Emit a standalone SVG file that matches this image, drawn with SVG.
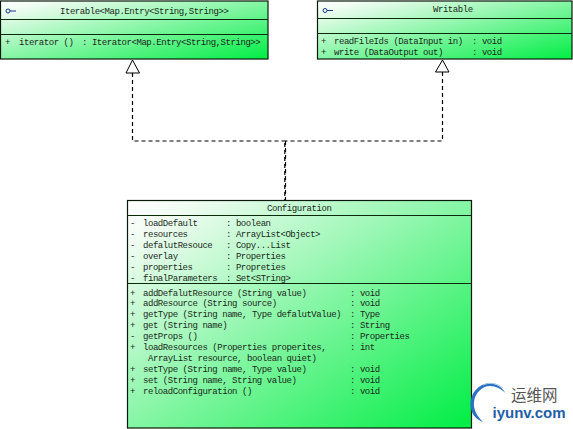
<svg xmlns="http://www.w3.org/2000/svg" width="573" height="429" viewBox="0 0 573 429">
<style>
text{font-family:"Liberation Mono","DejaVu Sans Mono",monospace;font-size:9px;letter-spacing:-.45px;fill:#1a2a1a;white-space:pre}
.box{fill:url(#g);stroke:#0a1a0a;stroke-width:1.2}
.div{stroke:#0a2a0a;stroke-width:1;fill:none}
.dash{fill:none;stroke:#000;stroke-width:1.2;stroke-dasharray:4 3}
.tri{fill:#fff;stroke:#000;stroke-width:1}
.ico{fill:none;stroke:#123a8a;stroke-width:1}
</style>
<defs>
<linearGradient id="g" x1="0" y1="0" x2="1" y2="1">
<stop offset="0" stop-color="#ffffff"/>
<stop offset=".1" stop-color="#f0fcf2"/>
<stop offset="1" stop-color="#00ee44"/>
</linearGradient>
</defs>
<rect width="573" height="429" fill="#fff"/>
<g id="connectors">
<path class="dash" d="M132.500 73V141H285"/>
<path class="dash" d="M442.500 72V141H285"/>
<path class="dash" d="M285.500 141V200"/>
<path class="dash" d="M284.800 143V200"/>
<polygon class="tri" points="132.500,60 126,73 139.500,73"/>
<polygon class="tri" points="442.500,60 435.500,72 449,72"/>
</g>
<g id="iterable">
<rect class="box" x="0.500" y="1" width="267.500" height="58"/>
<path class="div" d="M0 19.500H268M0 34.500H268"/>
<circle class="ico" cx="8" cy="11" r="2"/><path class="ico" d="M10 11H16"/>
<text x="60" y="14">Iterable&lt;Map.Entry&lt;String,String&gt;&gt;</text>
<text x="5" y="45">+</text><text x="19" y="45">iterator ()</text><text x="82" y="45">: Iterator&lt;Map.Entry&lt;String,String&gt;&gt;</text>
</g>
<g id="writable">
<rect class="box" x="317.500" y="1" width="254.500" height="58"/>
<path class="div" d="M317 18.500H572M317 33.500H572"/>
<circle class="ico" cx="325" cy="10.500" r="2"/><path class="ico" d="M327 10.500H333"/>
<text x="433" y="12">Writable</text>
<text x="321" y="44">+</text><text x="334" y="44">readFileIds (DataInput in)</text><text x="472" y="44">: void</text>
<text x="321" y="55">+</text><text x="334" y="55">write (DataOutput out)</text><text x="472" y="55">: void</text>
</g>
<g id="configuration">
<rect class="box" x="127.500" y="200.500" width="344" height="227.500"/>
<path class="div" d="M127 215.500H471M127 283.500H471"/>
<text x="267" y="211">Configuration</text>
<text x="130" y="226">-</text><text x="143" y="226">loadDefault</text><text x="226" y="226">: boolean</text>
<text x="130" y="237">-</text><text x="143" y="237">resources</text><text x="226" y="237">: ArrayList&lt;Object&gt;</text>
<text x="130" y="248">-</text><text x="143" y="248">defalutResouce</text><text x="226" y="248">: Copy...List</text>
<text x="130" y="259">-</text><text x="143" y="259">overlay</text><text x="226" y="259">: Properties</text>
<text x="130" y="270">-</text><text x="143" y="270">properties</text><text x="226" y="270">: Propreties</text>
<text x="130" y="281">-</text><text x="143" y="281">finalParameters</text><text x="226" y="281">: Set&lt;STring&gt;</text>
<text x="130" y="296">+</text><text x="143" y="296">addDefalutResource (String value)</text><text x="350" y="296">: void</text>
<text x="130" y="306">+</text><text x="143" y="306">addResource (String source)</text><text x="350" y="306">: void</text>
<text x="130" y="317">+</text><text x="143" y="317">getType (String name, Type defalutValue)</text><text x="350" y="317">: Type</text>
<text x="130" y="328">+</text><text x="143" y="328">get (String name)</text><text x="350" y="328">: String</text>
<text x="130" y="339">-</text><text x="143" y="339">getProps ()</text><text x="350" y="339">: Properties</text>
<text x="130" y="350">+</text><text x="143" y="350">loadResources (Properties properites,</text><text x="350" y="350">: int</text>
<text x="148" y="361">ArrayList resource, boolean quiet)</text>
<text x="130" y="372">+</text><text x="143" y="372">setType (String name, Type value)</text><text x="350" y="372">: void</text>
<text x="130" y="383">+</text><text x="143" y="383">set (String name, String value)</text><text x="350" y="383">: void</text>
<text x="130" y="394">+</text><text x="143" y="394">reloadConfiguration ()</text><text x="350" y="394">: void</text>
</g>
<g id="watermark">
<path d="M505.500 393C500 384 490 381 482 385C472 390 468 402 472 412C474 417 478 420 483 422C477 416 473 409 474 402C475 393 482 386 490 386C496 386 501 389 505.500 393Z" fill="#2b72c4"/>
<path d="M503 388C497 383 489 382 483 385" fill="none" stroke="#a8c8e4" stroke-width="1"/>
<text x="511" y="401" style="font-family:'Noto Sans CJK SC',sans-serif;font-size:15.500px;letter-spacing:0;fill:#555">运维网</text>
<text x="492.500" y="418" style="font-family:'Liberation Sans',sans-serif;font-size:15px;font-weight:bold;letter-spacing:0;fill:#1f5fa8">iyunv.com</text>
</g>
</svg>
